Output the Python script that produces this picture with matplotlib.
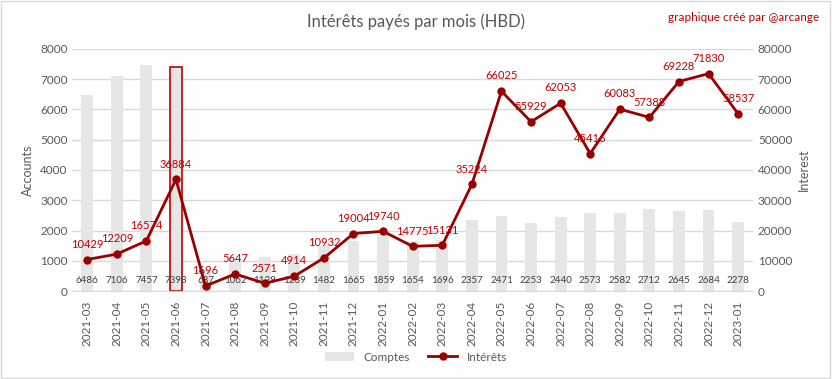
import numpy as np
import matplotlib.pyplot as plt
from matplotlib.patches import Rectangle

plt.rcParams['font.family'] = ['Lato', 'DejaVu Sans']

mois = ['2021-03', '2021-04', '2021-05', '2021-06', '2021-07', '2021-08', '2021-09',
        '2021-10', '2021-11', '2021-12', '2022-01', '2022-02', '2022-03', '2022-04',
        '2022-05', '2022-06', '2022-07', '2022-08', '2022-09', '2022-10', '2022-11',
        '2022-12', '2023-01']
comptes = [6486, 7106, 7457, 7398, 687, 1062, 1129, 1239, 1482, 1665, 1859, 1654,
           1696, 2357, 2471, 2253, 2440, 2573, 2582, 2712, 2645, 2684, 2278]
interets = [10429, 12209, 16574, 36884, 1696, 5647, 2571, 4914, 10932, 19004, 19740,
            14775, 15131, 35224, 66025, 55929, 62053, 45416, 60083, 57388, 69228,
            71830, 58537]

gris = '#595959'
rouge = '#c00000'
ligne = '#990000'

fig = plt.figure(figsize=(8.32, 3.79), dpi=100)
ax = fig.add_axes([0.087, 0.232, 0.818, 0.639])
ax2 = ax.twinx()

x = np.arange(len(mois))
bars = ax.bar(x, comptes, width=0.4, color='#e6e6e6', zorder=2, label='Comptes')
bars[3].set_edgecolor(rouge)
bars[3].set_linewidth(1.2)

for xi, v in zip(x, comptes):
    ax.text(xi, 360, str(v), ha='center', va='center', fontsize=7, color='#404040', zorder=3)

ax.set_ylim(0, 8000)
ax.set_yticks(range(0, 8001, 1000))
ax.set_xlim(-0.5, len(mois) - 0.5)
ax.set_xticks(x)
ax.set_xticklabels(mois, rotation=90, fontsize=8.5, color=gris)
ax.tick_params(axis='y', labelsize=8.5, colors=gris, length=0)
ax.tick_params(axis='x', length=0, pad=7)
ax.grid(axis='y', color='#d9d9d9', linewidth=1, zorder=0)
ax.set_axisbelow(True)
ax.set_ylabel('Accounts', color=gris, fontsize=9)
for s in ['top', 'left', 'right']:
    ax.spines[s].set_visible(False)
ax.spines['bottom'].set_color('#d9d9d9')

ln, = ax2.plot(x, interets, color=ligne, linewidth=2, marker='o', markersize=5,
               zorder=4, label='Intérêts')
for xi, v in zip(x, interets):
    ax2.annotate(str(v), (xi, v), xytext=(0, 7), textcoords='offset points',
                 ha='center', va='bottom', fontsize=8, color=rouge, zorder=5)
ax2.set_ylim(0, 80000)
ax2.set_yticks(range(0, 80001, 10000))
ax2.tick_params(axis='y', labelsize=8.5, colors=gris, length=0)
ax2.set_ylabel('Interest', color=gris, fontsize=9)
for s in ['top', 'left', 'right', 'bottom']:
    ax2.spines[s].set_visible(False)

fig.suptitle('Intérêts payés par mois (HBD)', x=0.5, y=0.965, fontsize=12, color=gris)
fig.text(0.985, 0.955, 'graphique créé par @arcange', ha='right', va='center',
         fontsize=8.5, color=rouge)

fig.legend(handles=[bars, ln], labels=['Comptes', 'Intérêts'], loc='center',
           bbox_to_anchor=(0.5, 0.058), ncol=2, frameon=False, fontsize=8.5,
           labelcolor=gris, handlelength=2.5, columnspacing=1.5)

fig.patches.append(Rectangle((0.001, 0.002), 0.997, 0.995, transform=fig.transFigure,
                             fill=False, edgecolor='#d9d9d9', linewidth=1))

fig.savefig('out.png', dpi=100)
